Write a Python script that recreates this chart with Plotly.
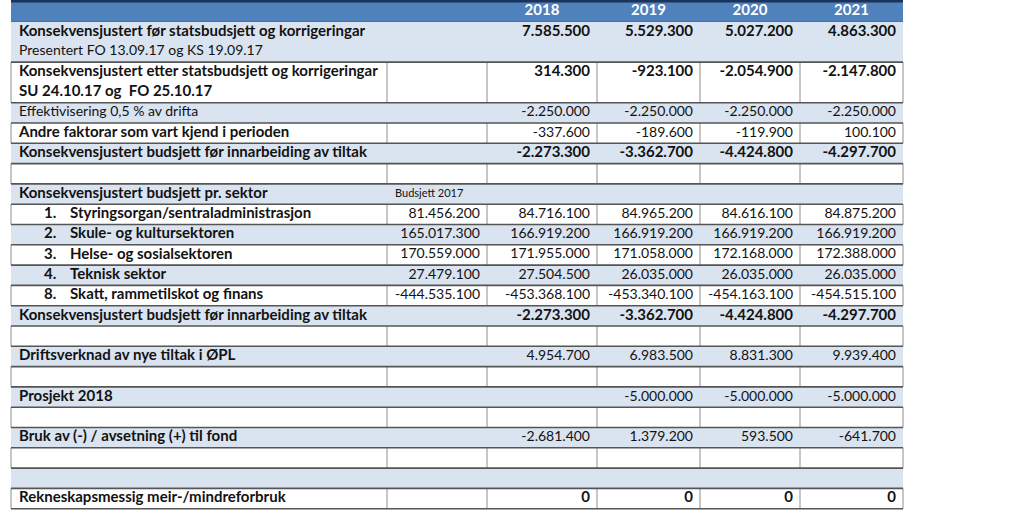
import plotly.graph_objects as go

# ---------------- data ----------------
years = ["2018", "2019", "2020", "2021"]

row_labels = [
    "Konsekvensjustert før statsbudsjett og korrigeringar",
    "Konsekvensjustert etter statsbudsjett og korrigeringar",
    "Effektivisering 0,5 % av drifta",
    "Andre faktorar som vart kjend i perioden",
    "Konsekvensjustert budsjett før innarbeiding av tiltak",
    "",
    "Konsekvensjustert budsjett pr. sektor",
    "1. Styringsorgan/sentraladministrasjon",
    "2. Skule- og kultursektoren",
    "3. Helse- og sosialsektoren",
    "4. Teknisk sektor",
    "8. Skatt, rammetilskot og finans",
    "Konsekvensjustert budsjett før innarbeiding av tiltak",
    "",
    "Driftsverknad av nye tiltak i ØPL",
    "",
    "Prosjekt 2018",
    "",
    "Bruk av (-) / avsetning (+) til fond",
    "",
    "",
    "Rekneskapsmessig meir-/mindreforbruk",
]
row_sublabels = ["Presentert FO 13.09.17 og KS 19.09.17",
                 "SU 24.10.17 og  FO 25.10.17"] + [""] * 20

budsjett_2017_title = "Budsjett 2017"
budsjett_2017_title_row = 6
budsjett_2017 = [None] * 7 + [81456200, 165017300, 170559000, 27479100, -444535100] + [None] * 10

v2018 = [7585500, 314300, -2250000, -337600, -2273300, None, None,
         84716100, 166919200, 171955000, 27504500, -453368100, -2273300, None,
         4954700, None, None, None, -2681400, None, None, 0]
v2019 = [5529300, -923100, -2250000, -189600, -3362700, None, None,
         84965200, 166919200, 171058000, 26035000, -453340100, -3362700, None,
         6983500, None, -5000000, None, 1379200, None, None, 0]
v2020 = [5027200, -2054900, -2250000, -119900, -4424800, None, None,
         84616100, 166919200, 172168000, 26035000, -454163100, -4424800, None,
         8831300, None, -5000000, None, 593500, None, None, 0]
v2021 = [4863300, -2147800, -2250000, 100100, -4297700, None, None,
         84875200, 166919200, 172388000, 26035000, -454515100, -4297700, None,
         9939400, None, -5000000, None, -641700, None, None, 0]

# ---------------- layout / styles ----------------
LIGHT = "#DAE3F0"
WHITE = "#FFFFFF"
HEAD = "#4F81BD"
NAVY = "#1B3358"
VLINE = "#8E8E8E"
HLINE = "#555555"
TXT = "#121212"
FONT = "Lato"
FS_REG = 14
FS_BOLD = 15

col_edges = [11, 387, 487, 597, 700, 800, 903]
header_h = 21.5
unit_h = 20.3
row_units = [2, 2] + [1] * 20
pad_l, pad_r = 8, 7

bold_label_rows = {1, 3, 4, 6, 7, 8, 9, 10, 11, 12, 14, 16, 18, 21}
bold_value_rows = {0, 1, 4, 12, 21}
sector_rows = {7, 8, 9, 10, 11}
sector_num_x = 44
sector_name_x = 70

n = len(row_labels)
row_top = []
y = header_h
for u in row_units:
    row_top.append(y)
    y += u * unit_h
row_edges = row_top + [y]
row_h = [u * unit_h for u in row_units]
row_mid = [t + h / 2 for t, h in zip(row_top, row_h)]
line1_y = [t + 10.3 if u > 1 else m for t, u, m in zip(row_top, row_units, row_mid)]
line2_y = [t + 30.0 for t in row_top]
is_light = [i % 2 == 0 for i in range(n)]


def fmt(v):
    if v is None:
        return ""
    return f"{v:,}".replace(",", ".")


fig = go.Figure()

# ---- fills (bars on the axes) ----
left, right = col_edges[0], col_edges[-1]
fig.add_trace(go.Bar(
    orientation="h",
    y=[header_h / 2] + row_mid,
    x=[right - left] * (n + 1),
    base=[left] * (n + 1),
    width=[header_h] + row_h,
    marker=dict(color=[HEAD] + [LIGHT if l else WHITE for l in is_light], line=dict(width=0)),
    hoverinfo="skip", showlegend=False,
))

# ---- vertical borders (white rows only) ----
vx, vy = [], []
for i in range(n):
    if is_light[i]:
        continue
    for ex in col_edges:
        vx += [ex, ex, None]
        vy += [row_edges[i], row_edges[i + 1], None]
fig.add_trace(go.Scatter(x=vx, y=vy, mode="lines", line=dict(color=VLINE, width=1),
                         hoverinfo="skip", showlegend=False))

# ---- horizontal borders ----
hx, hy = [], []
for e in row_edges[1:]:
    hx += [left, right, None]
    hy += [e, e, None]
fig.add_trace(go.Scatter(x=hx, y=hy, mode="lines", line=dict(color=HLINE, width=1.6),
                         hoverinfo="skip", showlegend=False))
# header edges
fig.add_trace(go.Scatter(x=[left, right], y=[1.2, 1.2], mode="lines",
                         line=dict(color=NAVY, width=2.5), hoverinfo="skip", showlegend=False))
fig.add_trace(go.Scatter(x=[left, right], y=[header_h, header_h], mode="lines",
                         line=dict(color="#46709F", width=1), hoverinfo="skip", showlegend=False))

# ---- header text ----
fig.add_trace(go.Scatter(
    x=[(col_edges[k + 2] + col_edges[k + 3]) / 2 for k in range(len(years))],
    y=[header_h / 2 + 0.5] * len(years),
    text=[f"<b>{yr}</b>" for yr in years],
    mode="text", textposition="middle center",
    textfont=dict(family=FONT, size=FS_BOLD, color="white"),
    hoverinfo="skip", showlegend=False,
))

# ---- label text ----
lx, ly, lt, ls = [], [], [], []
for i in range(n):
    lab = row_labels[i]
    if not lab:
        continue
    bold = i == 0 or i in bold_label_rows
    size = FS_BOLD if bold else FS_REG
    if i in sector_rows:
        num, rest = lab.split(" ", 1)
        lx += [sector_num_x, sector_name_x]
        ly += [row_mid[i], row_mid[i]]
        lt += [f"<b>{num}</b>", f"<b>{rest}</b>"]
        ls += [size, size]
    else:
        lx.append(left + pad_l)
        ly.append(line1_y[i])
        lt.append(f"<b>{lab}</b>" if bold else lab)
        ls.append(size)
    sub = row_sublabels[i]
    if sub:
        sb = i in bold_label_rows
        lx.append(left + pad_l)
        ly.append(line2_y[i])
        lt.append(f"<b>{sub}</b>" if sb else sub)
        ls.append(FS_BOLD if sb else FS_REG)
fig.add_trace(go.Scatter(
    x=lx, y=ly, text=lt, mode="text", textposition="middle right",
    textfont=dict(family=FONT, size=ls, color=TXT),
    hoverinfo="skip", showlegend=False,
))

# ---- "Budsjett 2017" small caption ----
fig.add_trace(go.Scatter(
    x=[col_edges[1] + pad_l], y=[row_mid[budsjett_2017_title_row]],
    text=[budsjett_2017_title], mode="text", textposition="middle right",
    textfont=dict(family=FONT, size=11, color=TXT),
    hoverinfo="skip", showlegend=False,
))

# ---- value text ----
vx_, vy_, vt, vs = [], [], [], []
for k, vals in enumerate([budsjett_2017, v2018, v2019, v2020, v2021]):
    xr = col_edges[k + 2] - pad_r
    for i, v in enumerate(vals):
        s = fmt(v)
        if not s:
            continue
        bold = i in bold_value_rows
        vx_.append(xr)
        vy_.append(line1_y[i])
        vt.append(f"<b>{s}</b>" if bold else s)
        vs.append(FS_BOLD if bold else FS_REG)
fig.add_trace(go.Scatter(
    x=vx_, y=vy_, text=vt, mode="text", textposition="middle left",
    textfont=dict(family=FONT, size=vs, color=TXT),
    hoverinfo="skip", showlegend=False,
))

fig.update_layout(
    width=1024, height=510,
    margin=dict(l=0, r=0, t=0, b=0),
    paper_bgcolor="white", plot_bgcolor="white",
    xaxis=dict(range=[0, 1024], visible=False, fixedrange=True),
    yaxis=dict(range=[510, 0], visible=False, fixedrange=True),
    bargap=0,
)

fig.write_html(
    "out.html",
    config={"displayModeBar": False},
    post_script="document.body.style.margin='0';document.body.style.overflow='hidden';",
)
